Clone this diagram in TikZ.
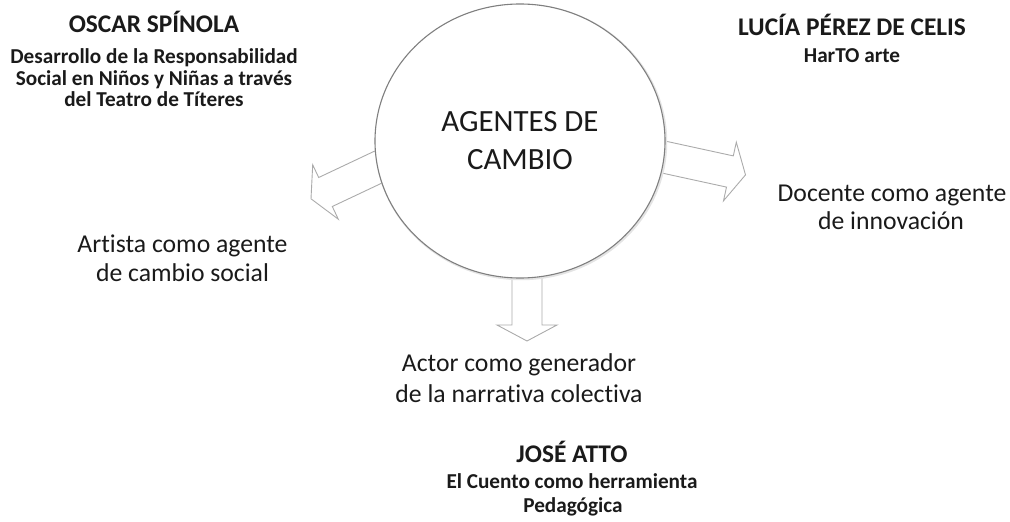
\documentclass[tikz,border=0pt]{standalone}
\usepackage{fontspec}
\setmainfont{Carlito}[Ligatures=NoCommon]
\definecolor{circ}{HTML}{7F7F7F}
\definecolor{arr}{HTML}{ABABAB}
\definecolor{txt}{HTML}{1A1A1A}
\definecolor{shad}{HTML}{E4E4E4}
\tikzset{
  namet/.style={font=\bfseries\fontsize{25.5}{30}\selectfont, anchor=base, inner sep=0pt, text=txt},
  subt/.style={font=\bfseries\fontsize{21.3}{25}\selectfont, anchor=base, inner sep=0pt, text=txt},
  labt/.style={font=\fontsize{25.8}{30}\selectfont, anchor=base, inner sep=0pt, text=txt},
  centt/.style={font=\fontsize{31}{36}\selectfont, anchor=base, inner sep=0pt, text=txt},
  blockarrow/.style={draw=arr, fill=white, line width=0.9pt, line join=miter},
  bigcircle/.style={draw=circ, fill=white, line width=1.1pt},
  circshadow/.style={draw=shad, line width=2.5pt}
}
\begin{document}
\begin{tikzpicture}[x=1bp, y=-1bp]
\useasboundingbox (0,0) rectangle (1010,522);
% block arrows (drawn directly, shafts hidden under the circle)
\draw[blockarrow] (379.7,148.7) -- (318.7,177.5) -- (312.7,164.8) -- (311,198.8)
   -- (338.3,219.2) -- (332.3,206.5) -- (393.3,177.7) -- cycle;
\draw[blockarrow] (657.1,139.3) -- (733.3,155.9) -- (736.3,142.2) -- (745.5,174.9)
   -- (723.5,200.8) -- (726.5,187.1) -- (650.3,170.5) -- cycle;
\draw[blockarrow] (512,262) -- (512,325) -- (497,325) -- (527,341)
   -- (557,325) -- (542,325) -- (542,262) -- cycle;
% central circle
\draw[circshadow] (521,142) ellipse [x radius=145, y radius=137];
\draw[bigcircle] (520,141) ellipse [x radius=145, y radius=137];
\node[centt] (c1) at (520,132) {AGENTES DE};
\node[centt] (c2) at (520,170) {CAMBIO};
% top left
\node[namet] (os) at (154,33) {OSCAR SPÍNOLA};
\node[subt] (os1) at (154,64) {Desarrollo de la Responsabilidad};
\node[subt] (os2) at (154,86) {Social en Niños y Niñas a través};
\node[subt] (os3) at (154,107) {del Teatro de Títeres};
% top right
\node[namet] (lp) at (852,36) {LUCÍA PÉREZ DE CELIS};
\node[subt] (lp1) at (852,63) {HarTO arte};
% bottom
\node[namet] (ja) at (572,462) {JOSÉ ATTO};
\node[subt] (ja1) at (572,488) {El Cuento como herramienta};
\node[subt] (ja2) at (573,512) {Pedagógica};
% labels
\node[labt] (l1) at (182.5,253) {Artista como agente};
\node[labt] (l2) at (182.5,282) {de cambio social};
\node[labt] (r1) at (892,202) {Docente como agente};
\node[labt] (r2) at (891,230) {de innovación};
\node[labt] (b1) at (519,372) {Actor como generador};
\node[labt] (b2) at (519,402) {de la narrativa colectiva};
\end{tikzpicture}
\end{document}
